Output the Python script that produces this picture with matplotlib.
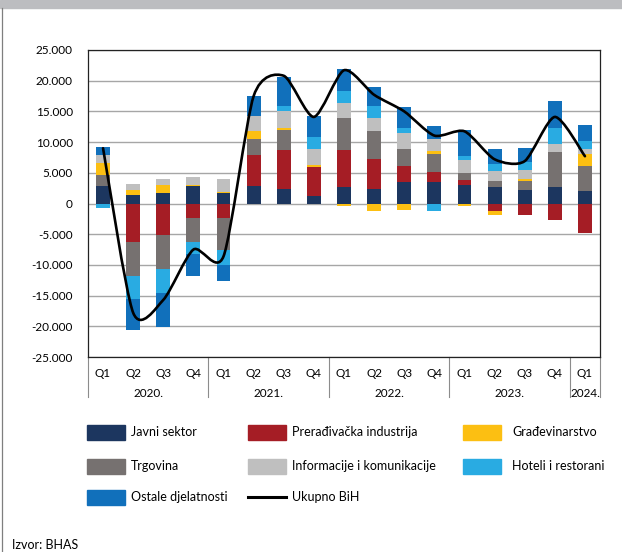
import numpy as np
import matplotlib
matplotlib.use('Agg')
import matplotlib.pyplot as plt
from matplotlib.path import Path
from matplotlib.patches import PathPatch, Rectangle
from matplotlib.lines import Line2D
from matplotlib.ticker import FuncFormatter

plt.rcParams['font.family'] = ['Lato', 'DejaVu Sans']

quarters = ['Q1', 'Q2', 'Q3', 'Q4'] * 4 + ['Q1']
years = ['2020.', '2021.', '2022.', '2023.', '2024.']
year_len = [4, 4, 4, 4, 1]

javni = [2820, 1460, 1730, 2820, 1730, 2820, 2380, 1190, 2660, 2380, 3470, 3470, 3090, 2660, 2280, 2660, 2000]
preradjivacka = [0, -6290, -5150, -2390, -2390, 5040, 6290, 4770, 6020, 4930, 2710, 1630, 810, -1250, -1840, -2660, -4880]
trgovina = [1900, -5530, -5470, -3850, -5260, 2710, 3360, 0, 5260, 4440, 2710, 2980, 1080, 980, 1360, 5690, 4170]
gradjevinarstvo = [1900, 800, 1360, 220, 100, 1190, 270, 270, -430, -1250, -980, 540, -430, -600, 380, 0, 1900]
informacije = [1200, 870, 980, 1250, 2170, 2440, 2820, 2710, 2440, 2170, 2600, 1950, 2060, 1730, 1360, 1410, 870]
hoteli = [-700, -3790, -3900, -1950, -2440, 0, 810, 1900, 1900, 1900, 810, -1250, 760, 1080, 1410, 2550, 1190]
ostale = [1400, -4990, -5530, -3630, -2550, 3360, 4660, 3360, 3690, 3090, 3360, 2000, 4230, 2490, 2170, 4440, 2710]
ukupno = [9000, -17800, -15700, -7500, -8600, 17500, 20800, 14100, 21700, 17700, 15000, 11060, 11760, 7200, 6900, 14100, 7700]

# stacking order (bottom -> top)
series = [
    ('Javni sektor', javni, '#1c365f'),
    ('Prerađivačka industrija', preradjivacka, '#a51d25'),
    ('Trgovina', trgovina, '#767170'),
    ('Građevinarstvo', gradjevinarstvo, '#fcbf12'),
    ('Informacije i komunikacije', informacije, '#bfbfbf'),
    ('Hoteli i restorani', hoteli, '#29abe2'),
    ('Ostale djelatnosti', ostale, '#1170bb'),
]
colors = {name: c for name, _, c in series}

W, H = 622, 552
fig = plt.figure(figsize=(W / 100, H / 100), dpi=100)
ax = fig.add_axes([88 / W, 1 - 357 / H, 512 / W, 307 / H])

x = np.arange(len(quarters))
pos_base = np.zeros(len(x))
neg_base = np.zeros(len(x))
for name, vals, col in series:
    v = np.array(vals, dtype=float)
    p = np.where(v > 0, v, 0)
    n = np.where(v < 0, v, 0)
    ax.bar(x, p, 0.46, bottom=pos_base, color=col, zorder=3)
    ax.bar(x, n, 0.46, bottom=neg_base, color=col, zorder=3)
    pos_base += p
    neg_base += n

# smoothed total line (bezier through the quarterly points)
pts = np.column_stack([x, ukupno]).astype(float)
verts = [pts[0]]
codes = [Path.MOVETO]
k = 1 / 8
for i in range(len(pts) - 1):
    p0 = pts[max(i - 1, 0)]
    p1 = pts[i]
    p2 = pts[i + 1]
    p3 = pts[min(i + 2, len(pts) - 1)]
    verts += [p1 + (p2 - p0) * k, p2 - (p3 - p1) * k, p2]
    codes += [Path.CURVE4] * 3
ax.add_patch(PathPatch(Path(verts, codes), fill=False, lw=1.9, color='black', zorder=5, capstyle='round'))

ax.set_xlim(-0.5, len(x) - 0.5)
ax.set_ylim(-25000, 25000)
ax.set_yticks(np.arange(-25000, 25001, 5000))
ax.yaxis.set_major_formatter(FuncFormatter(lambda v, p: '{:,.0f}'.format(v).replace(',', '.')))
ax.grid(axis='y', color='#a6a6a6', lw=1.0, zorder=0)
ax.tick_params(axis='y', length=0, pad=11, labelsize=8.5)
ax.set_xticks(x)
ax.set_xticklabels(quarters)
ax.tick_params(axis='x', length=0, pad=8, labelsize=8.5)
for s in ax.spines.values():
    s.set_color('#222222')
    s.set_linewidth(0.9)

# year separators and labels under the axis
trans = ax.get_xaxis_transform()
start = -0.5
for yr, n in zip(years, year_len):
    ax.plot([start, start], [0, -0.13], transform=trans, color='#8c8c8c', lw=0.8, clip_on=False)
    ax.text(start + n / 2, -0.118, yr, transform=trans, ha='center', va='center', fontsize=8.5)
    start += n
ax.plot([start, start], [0, -0.13], transform=trans, color='#8c8c8c', lw=0.8, clip_on=False)

# legend, laid out like the original (3 columns)
leg = [
    ('Javni sektor', 0, 0), ('Prerađivačka industrija', 1, 0), ('Građevinarstvo', 2, 0),
    ('Trgovina', 0, 1), ('Informacije i komunikacije', 1, 1), ('Hoteli i restorani', 2, 1),
    ('Ostale djelatnosti', 0, 2), ('Ukupno BiH', 1, 2),
]
col_x = [87, 248, 463]
text_x = [131, 292, 512]
row_y = [432, 466, 497]
for name, c, r in leg:
    yc = 1 - row_y[r] / H
    if name == 'Ukupno BiH':
        fig.add_artist(Line2D([col_x[c] / W, (col_x[c] + 38) / W], [yc, yc], color='black', lw=2.2))
    else:
        fig.add_artist(Rectangle((col_x[c] / W, yc - 7.5 / H), 38 / W, 15 / H, color=colors[name]))
    fig.text(text_x[c] / W, yc, name, ha='left', va='center', fontsize=9)

fig.text(12 / W, 1 - 545 / H, 'Izvor: BHAS', ha='left', va='center', fontsize=9)

# frame of the box: grey strip on top and line on the left
fig.add_artist(Rectangle((0, 1 - 8 / H), 1, 8 / H, color='#bcbdc0'))
fig.add_artist(Line2D([2 / W, 2 / W], [0, 1 - 8 / H], color='#7f7f7f', lw=0.9))

fig.savefig('out.png', dpi=100)
